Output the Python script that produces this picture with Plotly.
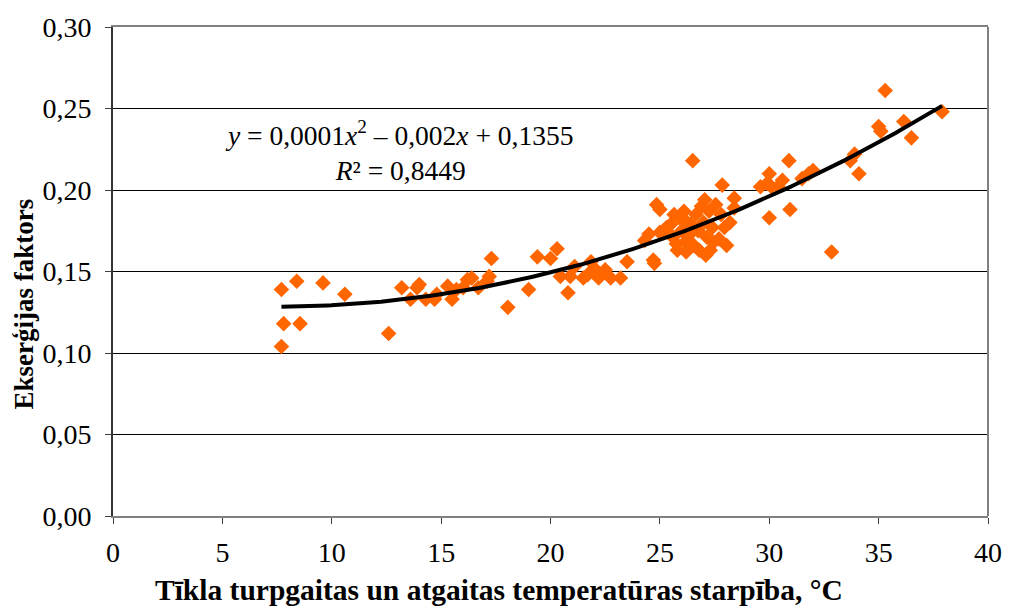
import numpy as np
import plotly.graph_objects as go

temp_diff = [7.7, 7.7, 7.8, 8.4, 8.55, 9.6, 10.6, 12.6, 13.2, 13.6, 13.9, 14.0, 14.3, 14.7, 14.8,
             15.3, 15.5, 15.7, 16.0, 16.2, 16.4, 16.7, 17.1, 17.2, 17.3, 18.05, 19.0, 19.4, 20.0,
             20.3, 20.45, 20.8, 20.9, 21.1, 21.5, 21.7, 21.85, 22.0, 22.2, 22.5, 22.75, 23.2, 23.5,
             24.3, 24.5, 24.7, 24.75, 24.85, 25.0, 25.0, 25.2, 25.3, 25.5, 25.6, 25.65, 25.75, 25.9,
             26.0, 26.1, 26.15, 26.25, 26.3, 26.4, 26.5, 26.55, 26.65, 26.75, 26.8, 26.9, 27.0, 27.05,
             27.15, 27.25, 27.3, 27.4, 27.45, 27.55, 27.7, 27.8, 27.85, 27.95, 28.05, 28.2, 28.4, 28.4,
             27.1, 26.2, 25.8,
             29.6, 29.9, 30.0, 30.0, 30.1, 30.4, 30.6, 30.9, 30.95, 31.5, 31.8, 32.0, 32.85, 33.7,
             33.9, 34.1, 35.0, 35.1, 35.3, 36.15, 36.5, 37.9]
exergy_factor = [0.104, 0.139, 0.118, 0.144, 0.118, 0.143, 0.136, 0.112, 0.140, 0.133, 0.140, 0.142,
                 0.133, 0.133, 0.136, 0.141, 0.133, 0.139, 0.140, 0.145, 0.146, 0.140, 0.144, 0.147,
                 0.158, 0.128, 0.139, 0.159, 0.158, 0.164, 0.147, 0.137, 0.147, 0.153, 0.146, 0.148,
                 0.156, 0.152, 0.146, 0.151, 0.146, 0.146, 0.156,
                 0.169, 0.173, 0.157, 0.155, 0.191, 0.188, 0.174, 0.175, 0.177, 0.179, 0.171, 0.185,
                 0.167, 0.183, 0.175, 0.187, 0.168, 0.180, 0.172, 0.179, 0.218, 0.166, 0.185, 0.175,
                 0.163, 0.190, 0.180, 0.194, 0.171, 0.187, 0.163, 0.177, 0.168, 0.191, 0.170, 0.185,
                 0.203, 0.177, 0.166, 0.180, 0.189, 0.195,
                 0.160, 0.162, 0.163,
                 0.202, 0.204, 0.183, 0.210, 0.202, 0.202, 0.206, 0.218, 0.188, 0.207, 0.210, 0.212,
                 0.162, 0.218, 0.222, 0.210, 0.239, 0.236, 0.261, 0.242, 0.232, 0.248]

x_ticks = [0, 5, 10, 15, 20, 25, 30, 35, 40]
y_ticks = [0.00, 0.05, 0.10, 0.15, 0.20, 0.25, 0.30]

x_title = "<b>Tīkla turpgaitas un atgaitas temperatūras starpība, °C</b>"
y_title = "<b>Ekserģijas faktors</b>"
equation = "<i>y</i> = 0,0001<i>x</i><sup>2</sup> – 0,002<i>x</i> + 0,1355<br><i>R</i>² = 0,8449"

coef = np.polyfit(temp_diff, exergy_factor, 2)
x_fit = np.linspace(min(temp_diff), max(temp_diff), 200)
y_fit = np.polyval(coef, x_fit)

font_family = "Liberation Serif, Times New Roman, serif"

fig = go.Figure()
fig.add_trace(go.Scatter(x=temp_diff, y=exergy_factor, mode="markers",
                         marker=dict(symbol="diamond", size=12, color="#FF6600",
                                     line=dict(width=0)),
                         showlegend=False))
fig.add_trace(go.Scatter(x=x_fit, y=y_fit, mode="lines",
                         line=dict(color="black", width=4), showlegend=False))

fig.add_annotation(x=0.327, y=0.746, xref="paper", yref="paper", showarrow=False,
                   xanchor="center", yanchor="middle", text=equation,
                   font=dict(family=font_family, size=27.5, color="black"), align="center")
fig.add_annotation(x=0.441, y=-0.151, xref="paper", yref="paper", showarrow=False,
                   xanchor="center", yanchor="middle", text=x_title,
                   font=dict(family=font_family, size=29.5, color="black"))
fig.add_annotation(x=-0.102, y=0.434, xref="paper", yref="paper", showarrow=False,
                   xanchor="center", yanchor="middle", text=y_title, textangle=-90,
                   font=dict(family=font_family, size=27, color="black"))

# gray right border of the plot frame
fig.add_shape(type="line", xref="paper", yref="paper", x0=1, x1=1, y0=0, y1=1,
              line=dict(color="#808080", width=2))

fig.update_layout(
    width=1014, height=612,
    margin=dict(l=113, r=17, t=27, b=96),
    paper_bgcolor="white", plot_bgcolor="white",
    separators=", ",
    font=dict(family=font_family, size=28, color="black"),
    xaxis=dict(range=[0, 40], tickvals=x_ticks, showgrid=False, zeroline=False,
               showline=True, linecolor="#808080", linewidth=2, mirror=True,
               ticks="outside", ticklen=6, tickcolor="#404040",
               tickfont=dict(size=28), ticklabelstandoff=4),
    yaxis=dict(range=[0, 0.30], tickvals=y_ticks, tickformat=".2f", showgrid=True,
               gridcolor="black", gridwidth=1, zeroline=False,
               showline=True, linecolor="#333333", linewidth=2, mirror=False,
               ticks="outside", ticklen=6, tickcolor="#404040",
               tickfont=dict(size=28), ticklabelstandoff=8),
)

fig.write_html("out.html")
